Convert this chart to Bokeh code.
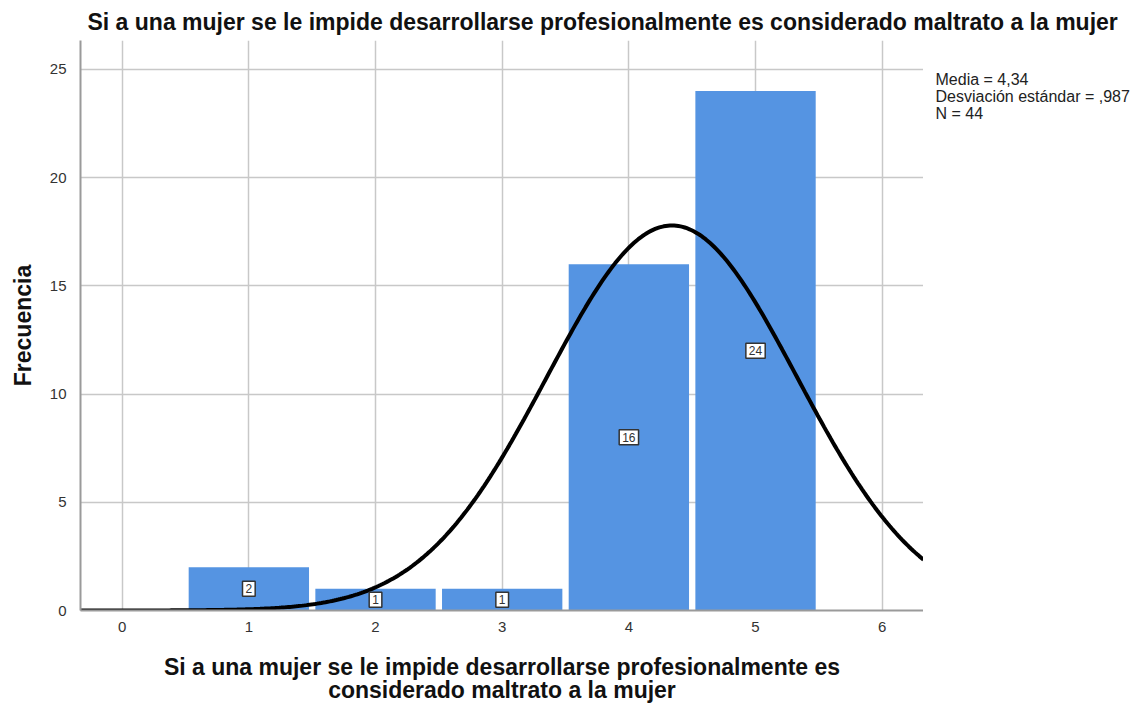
import numpy as np
from bokeh.plotting import figure
from bokeh.layouts import row, column
from bokeh.models import Range1d, Label, FixedTicker, ColumnDataSource
from bokeh.embed import file_html
from bokeh.resources import INLINE

# ---- data ----
categories = [1, 2, 3, 4, 5]
counts = [2, 1, 1, 16, 24]
x_ticks = [0, 1, 2, 3, 4, 5, 6]
y_ticks = [0, 5, 10, 15, 20, 25]
mean = 4.34
sd = 0.987
n = 44
title_text = "Si a una mujer se le impide desarrollarse profesionalmente es considerado maltrato a la mujer"
x_label = "Si a una mujer se le impide desarrollarse profesionalmente es\nconsiderado maltrato a la mujer"
y_label = "Frecuencia"
stats_text = "Media = 4,34\nDesviación estándar = ,987\nN = 44"

FONT = "Liberation Sans"
BAR = "#5594e2"
W, H = 1136, 706
TOP = 40          # height of the title strip
MAIN_W = 923      # width of the chart part
SIDE_W = W - MAIN_W

x0, x1 = -0.329, 6.326
y_top = 26.33


def blank(width, height):
    f = figure(width=width, height=height, output_backend="svg", toolbar_location=None,
               x_range=Range1d(0, width), y_range=Range1d(height, 0),
               x_axis_type=None, y_axis_type=None,
               min_border_left=0, min_border_right=0, min_border_top=0, min_border_bottom=0)
    f.outline_line_color = None
    f.grid.visible = False
    f.background_fill_color = "white"
    f.border_fill_color = "white"
    return f


# ---- title strip ----
pt = blank(W, TOP)
pt.add_layout(Label(x=87, y=21.5, text=title_text, text_baseline="middle", text_align="left",
                    text_font=FONT, text_font_size="23px", text_font_style="bold",
                    text_color="#111111"))

# ---- main chart ----
p = figure(width=MAIN_W, height=H - TOP, output_backend="svg", toolbar_location=None,
           x_range=Range1d(x0, x1), y_range=Range1d(0, y_top),
           min_border_left=80, min_border_right=0, min_border_top=0, min_border_bottom=96)
p.outline_line_color = None
p.background_fill_color = "white"
p.border_fill_color = "white"

for ax in (p.xaxis[0], p.yaxis[0]):
    ax.major_tick_line_color = None
    ax.minor_tick_line_color = None
    ax.axis_line_color = "#9a9a9a"
    ax.axis_line_width = 2
    ax.major_label_text_font = FONT
    ax.major_label_text_font_size = "15px"
    ax.major_label_text_color = "#333333"
    ax.axis_label_text_font = FONT
    ax.axis_label_text_font_size = "23px"
    ax.axis_label_text_font_style = "bold"
    ax.axis_label_text_color = "#111111"

p.xaxis.ticker = FixedTicker(ticks=x_ticks)
p.yaxis.ticker = FixedTicker(ticks=y_ticks)
p.xaxis.axis_label = x_label
p.yaxis.axis_label = y_label
p.xaxis.axis_label_text_line_height = 0.92
p.xaxis.major_label_standoff = 5
p.yaxis.major_label_standoff = 8
p.xaxis.axis_label_standoff = 19
p.yaxis.axis_label_standoff = 11

p.xgrid.ticker = FixedTicker(ticks=x_ticks)
p.ygrid.ticker = FixedTicker(ticks=y_ticks[1:])
p.grid.grid_line_color = "#c8c8c8"
p.grid.grid_line_width = 1.5

src = ColumnDataSource(dict(x=categories, top=counts))
p.vbar(x="x", top="top", width=0.95, bottom=0, source=src,
       fill_color=BAR, line_color=None)

# normal curve from stated mean / sd / N (bin width 1)
xs = np.linspace(x0, x1, 400)
ys = n / (sd * np.sqrt(2 * np.pi)) * np.exp(-0.5 * ((xs - mean) / sd) ** 2)
p.line(xs, ys, line_color="black", line_width=4)

for c, v in zip(categories, counts):
    p.add_layout(Label(x=c, y=v / 2, text=str(v),
                       text_align="center", text_baseline="middle",
                       text_font=FONT, text_font_size="12px", text_color="#333333",
                       background_fill_color="white", border_line_color="#333333",
                       border_line_width=1.5, padding=3))

# ---- statistics panel ----
ps = blank(SIDE_W, H - TOP)
ps.add_layout(Label(x=12, y=36, text=stats_text, text_baseline="top", text_align="left",
                    text_font=FONT, text_font_size="16px", text_color="#222222",
                    text_line_height=1.0))

layout = column(pt, row(p, ps, spacing=0), spacing=0)
open("out.html", "w").write(file_html(layout, INLINE))
